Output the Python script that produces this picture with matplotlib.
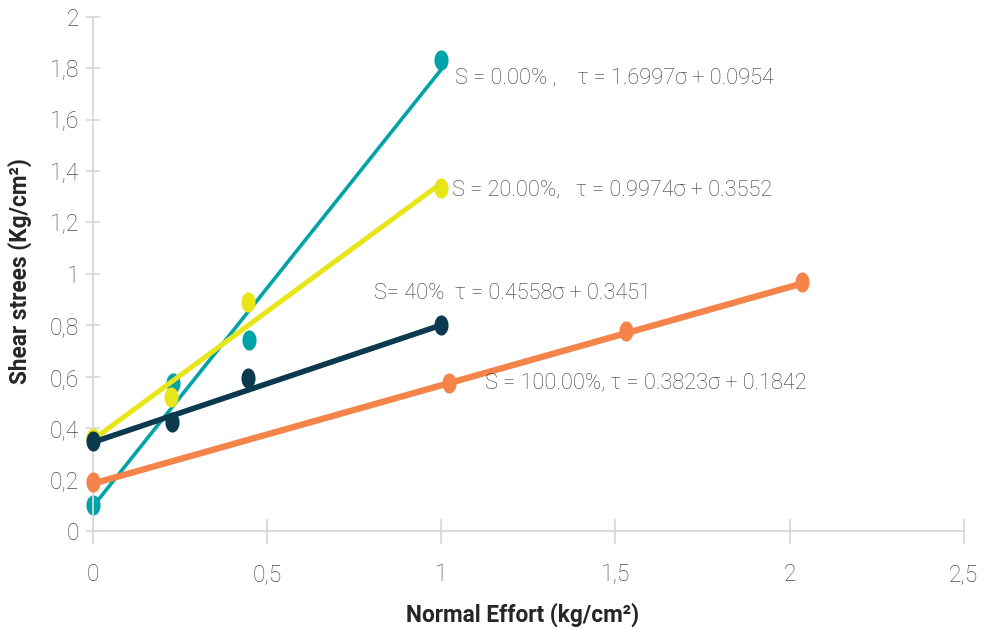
import matplotlib
matplotlib.use("Agg")
import matplotlib.pyplot as plt
import numpy as np
from matplotlib.path import Path

# ---- data ----
series_names = ["S = 0.00%", "S = 20.00%", "S = 40%", "S = 100.00%"]
x_s0 = [0.0, 0.229, 0.448, 1.0]
y_s0 = [0.101, 0.575, 0.743, 1.833]
x_s20 = [0.0, 0.225, 0.444, 1.0]
y_s20 = [0.362, 0.523, 0.892, 1.333]
x_s40 = [0.0, 0.226, 0.444, 1.0]
y_s40 = [0.351, 0.425, 0.594, 0.802]
x_s100 = [0.0, 1.023, 1.530, 2.037]
y_s100 = [0.192, 0.577, 0.779, 0.968]
slopes = [1.6997, 0.9974, 0.4558, 0.3823]
intercepts = [0.0954, 0.3552, 0.3451, 0.1842]
labels = ["S = 0.00% ,    τ = 1.6997σ + 0.0954",
          "S = 20.00%,   τ = 0.9974σ + 0.3552",
          "S= 40%  τ = 0.4558σ + 0.3451",
          "S = 100.00%, τ = 0.3823σ + 0.1842"]
x_ticks = [0, 0.5, 1, 1.5, 2, 2.5]
x_ticklabels = ["0", "0,5", "1", "1,5", "2", "2,5"]
y_ticks = [0, 0.2, 0.4, 0.6, 0.8, 1.0, 1.2, 1.4, 1.6, 1.8, 2.0]
y_ticklabels = ["0", "0,2", "0,4", "0,6", "0,8", "1", "1,2", "1,4", "1,6", "1,8", "2"]

colors = ["#00A3A7", "#E8E518", "#0B3A4E", "#F5844A"]
lws = [2.6, 3.6, 4.0, 4.6]

plt.rcParams['font.family'] = ['Roboto', 'DejaVu Sans']

# elliptical marker
t = np.linspace(0, 2 * np.pi, 60)
ell = Path(np.column_stack([0.7 * np.cos(t), np.sin(t)]), closed=True)

fig = plt.figure(figsize=(9.84, 6.3), dpi=100)
ax = fig.add_axes([93 / 984, 99 / 630, (963.7 - 93) / 984, (531 - 16.7) / 630])

xs = [x_s0, x_s20, x_s40, x_s100]
ys = [y_s0, y_s20, y_s40, y_s100]
for i in range(4):
    xr = np.array([min(xs[i]), max(xs[i])])
    ax.plot(xr, slopes[i] * xr + intercepts[i], color=colors[i], lw=lws[i],
            solid_capstyle='butt', zorder=2 + i, clip_on=False)
    ax.plot(xs[i], ys[i], linestyle='none', marker=ell, markersize=14.5,
            color=colors[i], markeredgewidth=0, zorder=2 + i, clip_on=False)

txt_pos = [(1.040, 1.763), (1.031, 1.327), (0.807, 0.922), (1.126, 0.576)]
for (tx, ty), lab in zip(txt_pos, labels):
    ax.text(tx, ty, lab, fontsize=15.7, color="#3A3A3A", va='center', ha='left',
            fontweight='light', zorder=10)

ax.set_xlim(0, 2.5)
ax.set_ylim(0, 2)
ax.set_xticks(x_ticks)
ax.set_xticklabels(x_ticklabels)
ax.set_yticks(y_ticks)
ax.set_yticklabels(y_ticklabels)
for s in ['top', 'right']:
    ax.spines[s].set_visible(False)
for s in ['left', 'bottom']:
    ax.spines[s].set_color('#D9D9D9')
    ax.spines[s].set_linewidth(1.3)
ax.tick_params(axis='y', direction='inout', length=10, width=1.3, color='#D9D9D9',
               labelsize=16.5, labelcolor='#4A4A4A', pad=5)
ax.tick_params(axis='x', direction='inout', length=18, width=1.3, color='#D9D9D9',
               labelsize=16.5, labelcolor='#4A4A4A', pad=14)
for lab in ax.get_xticklabels() + ax.get_yticklabels():
    lab.set_fontweight('light')

fig.text(523 / 984, 1 - 615 / 630, "Normal Effort (kg/cm²)", fontsize=16.3,
         fontweight='bold', color='#262626', ha='center', va='center')
fig.text(20 / 984, 1 - 271 / 630, "Shear strees (Kg/cm²)", fontsize=16.3,
         fontweight='bold', color='#262626', ha='center', va='center', rotation=90)

fig.savefig("out.png", dpi=100)
